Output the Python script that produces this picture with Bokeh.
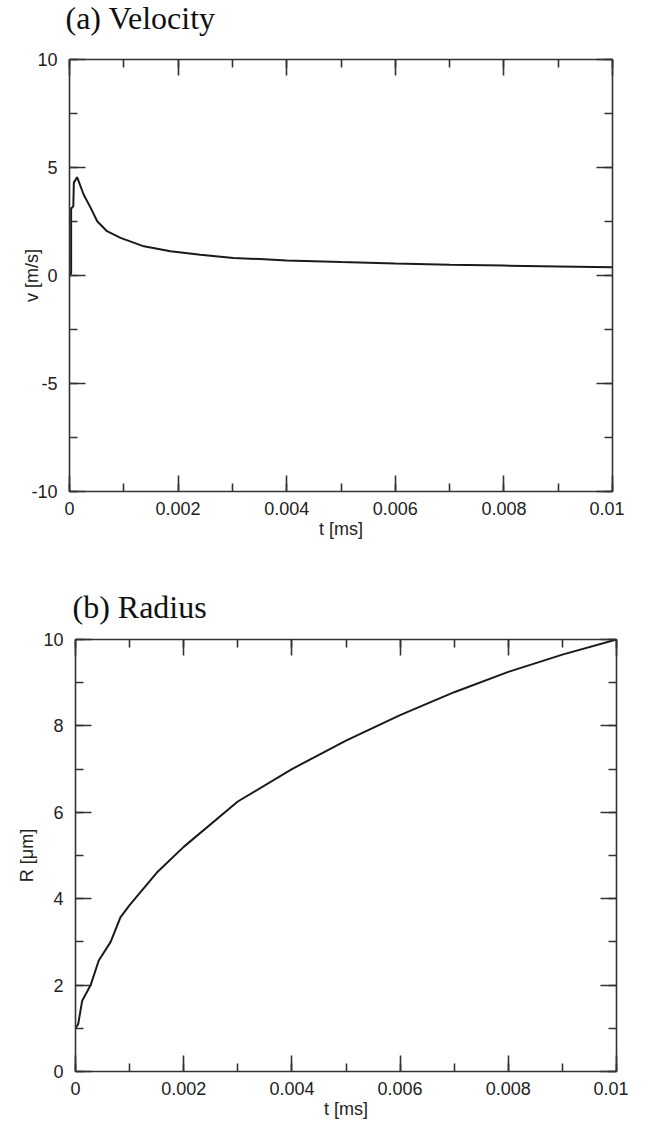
from bokeh.plotting import figure
from bokeh.models import (LinearAxis, Range1d, SingleIntervalTicker, CustomLabelingPolicy,
                          Spacer)
from bokeh.core.properties import value
from bokeh.layouts import column, row
from bokeh.embed import file_html
from bokeh.resources import INLINE

# ---- data ----
x_tick_values = [0, 0.002, 0.004, 0.006, 0.008, 0.01]
x_tick_labels = ["0", "0.002", "0.004", "0.006", "0.008", "0.01"]
v_tick_values = [-10, -5, 0, 5, 10]
v_tick_labels = ["-10", "-5", "0", "5", "10"]
r_tick_values = [0, 2, 4, 6, 8, 10]
r_tick_labels = ["0", "2", "4", "6", "8", "10"]

vel_t = [0.0, 0.00003, 0.00003, 0.00007, 0.00008, 0.00014, 0.00026, 0.00039, 0.00051,
         0.00069, 0.00094, 0.00137, 0.00186, 0.00241, 0.00302, 0.0035, 0.004, 0.005,
         0.006, 0.007, 0.008, 0.009, 0.01]
vel_v = [0.0, 0.1, 3.1, 3.2, 4.3, 4.55, 3.75, 3.13, 2.51, 2.05, 1.74, 1.35, 1.12, 0.96,
         0.81, 0.76, 0.70, 0.62, 0.55, 0.50, 0.46, 0.42, 0.38]

rad_t = [0.0, 0.00005, 0.000124, 0.00028, 0.00043, 0.00065, 0.00083, 0.001, 0.0015,
         0.002, 0.003, 0.004, 0.005, 0.006, 0.007, 0.008, 0.009, 0.01]
rad_r = [1.0, 1.1, 1.64, 2.0, 2.57, 3.0, 3.57, 3.85, 4.6, 5.2, 6.25, 7.0, 7.66, 8.25,
         8.78, 9.25, 9.65, 10.0]

titles = ["(a) Velocity", "(b) Radius"]

TICK_FONT = "Liberation Sans"
AX_COLOR = "#333333"
FIG_W = 630


def style_axis(ax, ticker, overrides, show_labels=True):
    ax.ticker = ticker
    ax.major_label_overrides = overrides
    ax.axis_line_color = AX_COLOR
    ax.axis_line_width = 1.6
    ax.major_tick_line_color = AX_COLOR
    ax.minor_tick_line_color = AX_COLOR
    ax.major_tick_line_width = 1.6
    ax.minor_tick_line_width = 1.6
    ax.major_tick_in = 16
    ax.major_tick_out = 0
    ax.minor_tick_in = 8
    ax.minor_tick_out = 0
    ax.major_label_text_font = TICK_FONT
    ax.major_label_text_color = "#222222"
    ax.axis_label_text_font = TICK_FONT
    ax.axis_label_text_font_style = "normal"
    ax.axis_label_text_color = "#222222"
    ax.axis_label_text_font_size = "18px"
    if show_labels:
        ax.major_label_text_font_size = "18px"
    else:
        # mirrored axis: ticks only, no labels drawn
        ax.major_label_text_font_size = "2px"
        ax.major_label_standoff = 0
        ax.major_label_policy = CustomLabelingPolicy(code="return []")


def make_title(text, height, x_px, center_from_top):
    t = figure(width=FIG_W, height=height, output_backend="svg", toolbar_location=None,
               x_range=Range1d(0, FIG_W), y_range=Range1d(0, height),
               x_axis_location=None, y_axis_location=None, title_location=None,
               min_border=0, min_border_left=0, min_border_right=0,
               min_border_top=0, min_border_bottom=0)
    t.grid.visible = False
    t.outline_line_color = None
    t.text(x=[x_px], y=[height - center_from_top], text=[text],
           text_font=value("Liberation Serif"), text_font_size="32px",
           text_color="#111111", text_align="left", text_baseline="middle")
    return t


def make_panel(xs, ys, yrange, ytick_values, ytick_labels, yinterval, ylabel,
               frame_w, min_bottom, ylabel_standoff):
    p = figure(frame_width=frame_w, frame_height=432, output_backend="svg",
               toolbar_location=None, x_range=Range1d(0, 0.01), y_range=Range1d(*yrange),
               min_border_left=69, min_border_right=12,
               min_border_top=12, min_border_bottom=min_bottom)
    p.grid.visible = False
    p.outline_line_color = None
    p.background_fill_color = "white"
    p.border_fill_color = "white"

    xover = {v: l for v, l in zip(x_tick_values, x_tick_labels)}
    yover = {v: l for v, l in zip(ytick_values, ytick_labels)}

    style_axis(p.xaxis[0], SingleIntervalTicker(interval=0.002, num_minor_ticks=2), xover)
    p.xaxis[0].axis_label = "t [ms]"
    p.xaxis[0].major_label_standoff = 10
    p.xaxis[0].axis_label_standoff = 1
    style_axis(p.yaxis[0], SingleIntervalTicker(interval=yinterval, num_minor_ticks=2), yover)
    p.yaxis[0].axis_label = ylabel
    p.yaxis[0].major_label_standoff = 12
    p.yaxis[0].axis_label_standoff = ylabel_standoff

    top = LinearAxis()
    style_axis(top, SingleIntervalTicker(interval=0.002, num_minor_ticks=2), xover, False)
    p.add_layout(top, "above")
    right = LinearAxis()
    style_axis(right, SingleIntervalTicker(interval=yinterval, num_minor_ticks=2), yover, False)
    p.add_layout(right, "right")

    p.line(xs, ys, line_color="#1a1a1a", line_width=2)
    return p


t1 = make_title(titles[0], 47, 65, 17)
p1 = make_panel(vel_t, vel_v, (-10, 10), v_tick_values, v_tick_labels, 5,
                "v [m/s]", 543, 93, -14)
t2 = make_title(titles[1], 43, 72, 22)
p2 = make_panel(rad_t, rad_r, (0, 10), r_tick_values, r_tick_labels, 2,
                "R [\u03bcm]", 541, 45, 3)

layout = column(row(t1), row(p1), row(t2), row(Spacer(width=6, height=10), p2, spacing=0),
                spacing=0)
open("out.html", "w").write(file_html(layout, INLINE))
